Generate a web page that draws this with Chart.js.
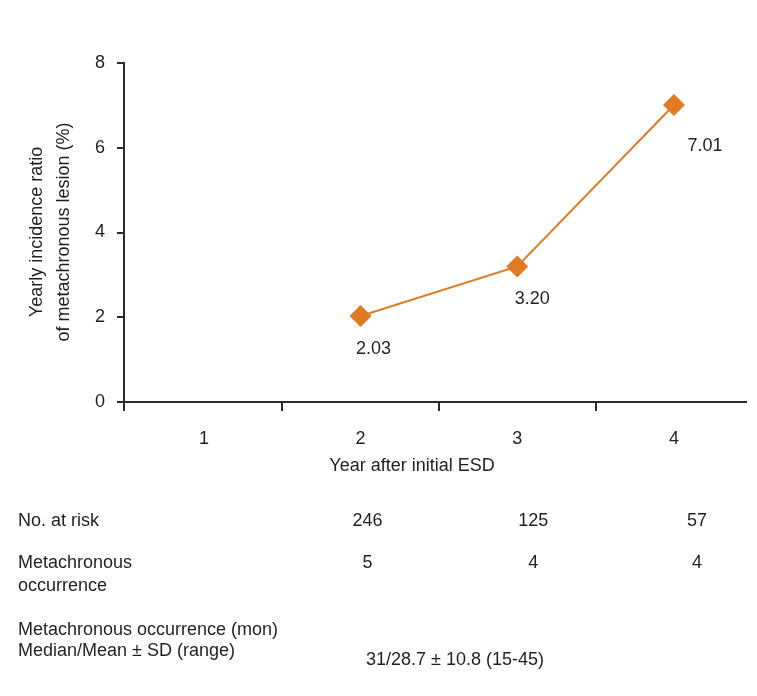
<!DOCTYPE html>
<html>
<head>
<meta charset="utf-8">
<script src="https://cdn.jsdelivr.net/npm/chart.js@4"></script>
<style>
  body { margin: 0; background: #fff; }
  canvas { display: block; }
</style>
</head>
<body>
<canvas id="chart" width="757" height="696"></canvas>
<script>
// data
const years = [1, 2, 3, 4];
const incidence = [null, 2.03, 3.20, 7.01];
const atRisk = [null, 246, 125, 57];
const occurrences = [null, 5, 4, 4];
const occurrenceSummary = "31/28.7 \u00b1 10.8 (15-45)";
const yTicks = [0, 2, 4, 6, 8];

// layout nudges: value labels relative to points, table columns relative to year
const labelOffsets = [null, [13, 33], [15, 33], [31, 41]];
const columnShift = [0, 7, 16, 23];

const FONT = "'Liberation Sans', Arial, sans-serif";
const TEXT = "#231f20";
const AXIS = "#2b2b2b";
const ORANGE = "#e07b24";

const textPlugin = {
  id: "figureText",
  afterDraw(chart) {
    const ctx = chart.ctx;
    const x = chart.scales.x;
    const meta = chart.getDatasetMeta(0);
    ctx.save();
    ctx.fillStyle = TEXT;
    ctx.font = "18px " + FONT;
    ctx.textBaseline = "middle";

    // value labels under each point
    ctx.textAlign = "center";
    meta.data.forEach((pt, i) => {
      if (incidence[i] == null) return;
      const off = labelOffsets[i];
      ctx.fillText(incidence[i].toFixed(2), pt.x + off[0], pt.y + off[1]);
    });

    // y axis title, two lines
    ctx.save();
    ctx.translate(37, 232);
    ctx.rotate(-Math.PI / 2);
    ctx.fillText("Yearly incidence ratio", 0, 0);
    ctx.fillText("of metachronous lesion (%)", 0, 27);
    ctx.restore();

    // x axis title
    ctx.fillText("Year after initial ESD", 412, 466);

    // table under the chart
    ctx.textAlign = "left";
    ctx.fillText("No. at risk", 18, 521);
    ctx.fillText("Metachronous", 18, 563);
    ctx.fillText("occurrence", 18, 586);
    ctx.fillText("Metachronous occurrence (mon)", 18, 630);
    ctx.fillText("Median/Mean \u00b1 SD (range)", 18, 651);

    ctx.textAlign = "center";
    years.forEach((yr, i) => {
      const px = x.getPixelForValue(yr) + columnShift[i];
      if (atRisk[i] != null) ctx.fillText(String(atRisk[i]), px, 521);
      if (occurrences[i] != null) ctx.fillText(String(occurrences[i]), px, 563);
    });
    ctx.fillText(occurrenceSummary, 455, 660);
    ctx.restore();
  }
};

new Chart(document.getElementById("chart"), {
  type: "line",
  data: {
    datasets: [{
      data: years.map((yr, i) => ({ x: yr, y: incidence[i] })),
      borderColor: ORANGE,
      backgroundColor: ORANGE,
      borderWidth: 2,
      pointStyle: "rectRot",
      pointRadius: 11,
      pointHoverRadius: 11,
      pointBorderWidth: 0,
      tension: 0
    }]
  },
  options: {
    responsive: false,
    animation: false,
    layout: { padding: { top: 63, right: 7, left: 0, bottom: 0 } },
    plugins: { legend: { display: false }, tooltip: { enabled: false } },
    scales: {
      x: {
        type: "linear",
        min: 0.49,
        max: 4.46,
        afterBuildTicks: (scale) => {
          scale.ticks = [0.49, 1, 1.5, 2, 2.5, 3, 3.5, 4].map((v) => ({ value: v }));
        },
        afterFit: (scale) => { scale.height = 294; },
        border: { display: true, color: AXIS, width: 2 },
        grid: {
          drawOnChartArea: false,
          tickLength: 9,
          lineWidth: 2,
          color: (c) => (c.tick && !Number.isInteger(c.tick.value) ? AXIS : "rgba(0,0,0,0)")
        },
        ticks: {
          autoSkip: false,
          maxRotation: 0,
          padding: 17,
          color: TEXT,
          font: { family: FONT, size: 18 },
          callback: (v) => (Number.isInteger(v) ? String(v) : "")
        }
      },
      y: {
        min: 0,
        max: 8,
        afterBuildTicks: (scale) => {
          scale.ticks = yTicks.map((v) => ({ value: v }));
        },
        afterFit: (scale) => { scale.width = 124; },
        border: { display: true, color: AXIS, width: 2 },
        grid: { drawOnChartArea: false, tickLength: 7, lineWidth: 2, color: AXIS },
        ticks: {
          padding: 12,
          color: TEXT,
          font: { family: FONT, size: 18 }
        }
      }
    }
  },
  plugins: [textPlugin]
});
</script>
</body>
</html>
